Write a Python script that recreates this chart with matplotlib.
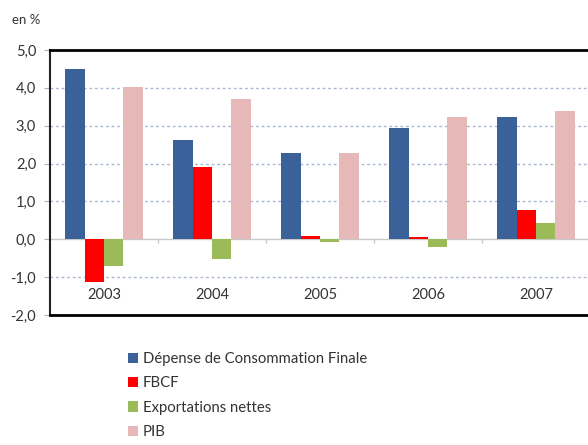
import numpy as np
import matplotlib
matplotlib.use("Agg")
import matplotlib.pyplot as plt

plt.rcParams['font.family'] = ['Lato', 'DejaVu Sans']

years = ['2003', '2004', '2005', '2006', '2007']
series_names = ['Dépense de Consommation Finale', 'FBCF', 'Exportations nettes', 'PIB']
consommation = [4.5, 2.62, 2.28, 2.95, 3.22]
fbcf = [-1.12, 1.9, 0.1, 0.06, 0.78]
exportations = [-0.7, -0.52, -0.07, -0.2, 0.42]
pib = [4.03, 3.7, 2.28, 3.22, 3.4]
colors = ['#3a6199', '#ff0000', '#9bbb59', '#e6b9b8']
yticks = [5, 4, 3, 2, 1, 0, -1, -2]

fig = plt.figure(figsize=(5.88, 4.45), dpi=100)
ax = fig.add_axes([50 / 588, 1 - 315 / 445, 540 / 588, 265 / 445])

x = np.arange(len(years))
width = 0.18
offsets = [-0.27, -0.09, 0.09, 0.27]
for vals, off, col, name in zip([consommation, fbcf, exportations, pib], offsets, colors, series_names):
    ax.bar(x + off, vals, width=width, color=col, label=name, zorder=3)

ax.set_xlim(-0.5, len(years) - 0.5)
ax.set_ylim(-2, 5)

# dotted gridlines, solid grey zero line
for v in yticks:
    if v in (5, -2):
        continue
    if v == 0:
        ax.axhline(0, color='#c8c8c8', lw=1.0, zorder=2)
    else:
        ax.axhline(v, color='#aab8d2', lw=1.0, ls=(0, (2, 2)), zorder=1)

# small category ticks under the zero line
bounds = np.arange(len(years) - 1) + 0.5
ax.vlines(bounds, -0.1, 0, color='#c8c8c8', lw=1.0, zorder=2)

# year labels sitting inside the plot area
for xi, yr in zip(x, years):
    ax.text(xi, -1.46, yr, ha='center', va='center', fontsize=10.5, color='#333333')

ax.set_xticks([])
ax.set_yticks(yticks)
ax.set_yticklabels([f"{v:.1f}".replace('.', ',') for v in yticks], fontsize=10.5, color='#333333')
ax.tick_params(axis='y', length=4, color='#b0b0b0', pad=6)

for side in ['top', 'bottom']:
    ax.spines[side].set_linewidth(2)
    ax.spines[side].set_color('black')
ax.spines['left'].set_linewidth(1.5)
ax.spines['left'].set_color('#222222')
ax.spines['right'].set_visible(False)

fig.text(12 / 588, 1 - 20 / 445, 'en %', fontsize=9.5, color='#333333', va='center')

fig.legend(loc='upper left', bbox_to_anchor=(122 / 588, 1 - 346 / 445), frameon=False,
           fontsize=10.7, handlelength=0.7, handleheight=0.7, handletextpad=0.3,
           labelspacing=0.7, labelcolor='#333333', borderaxespad=0)

fig.savefig('out.png', dpi=100)
